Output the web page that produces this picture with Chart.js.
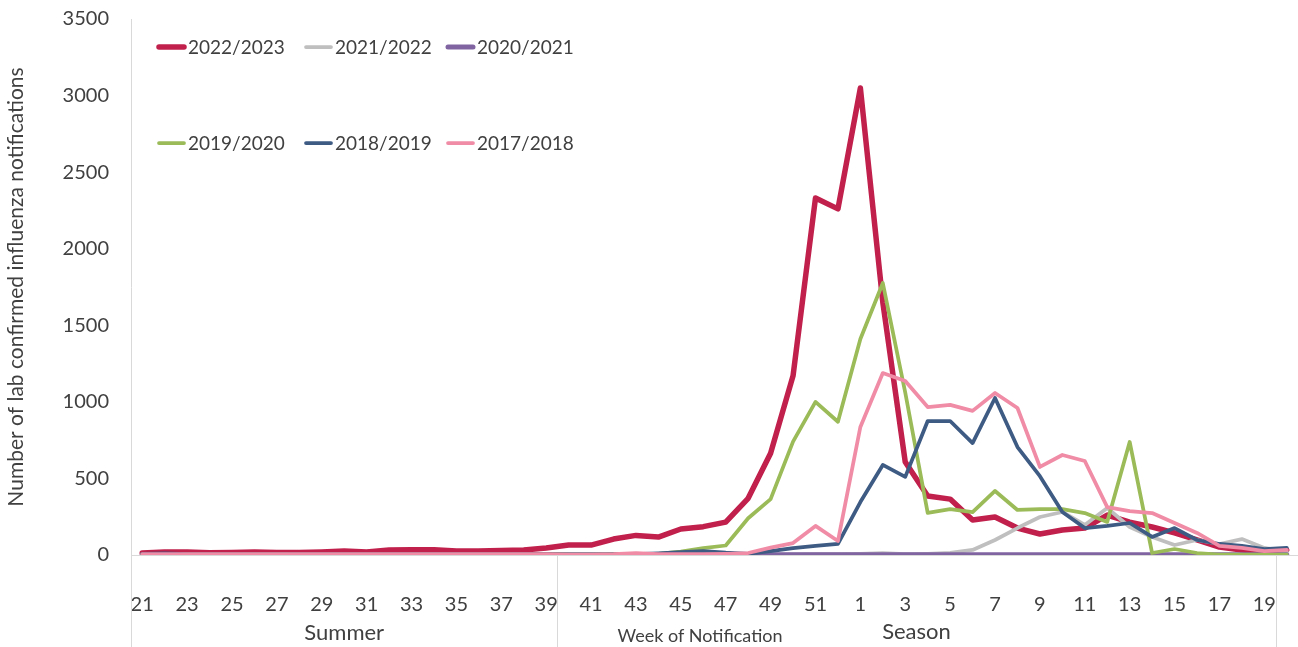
<!DOCTYPE html>
<html>
<head>
<meta charset="utf-8">
<script src="https://cdn.jsdelivr.net/npm/chart.js@4.4.1/dist/chart.umd.min.js"></script>
<style>
  body { margin: 0; background: #fff; }
</style>
</head>
<body>
<canvas id="fluChart" width="1298" height="647"></canvas>
<script>
// week of notification: 21..52 (summer + early season), then 1..20
const weeks = ['21','22','23','24','25','26','27','28','29','30','31','32','33','34','35','36','37','38','39',
  '40','41','42','43','44','45','46','47','48','49','50','51','52',
  '1','2','3','4','5','6','7','8','9','10','11','12','13','14','15','16','17','18','19','20'];

const yTicks = [0, 500, 1000, 1500, 2000, 2500, 3000, 3500];

const s2022 = [13,20,20,15,16,20,16,16,20,26,20,33,35,35,26,26,30,33,46,
  65,65,104,128,117,170,185,215,370,665,1170,2331,2260,
  3050,1650,607,385,365,228,248,176,137,163,176,261,215,183,144,98,52,33,20,33];
const s2021 = [2,2,2,2,2,2,2,2,2,2,2,2,2,2,2,2,2,2,2,
  2,2,2,2,2,2,2,2,2,3,4,5,5,
  8,12,5,8,14,33,98,176,248,281,196,307,183,118,65,98,72,104,46,20];
const s2020 = [1,1,1,1,1,1,1,1,1,1,1,1,1,1,1,1,1,1,1,
  1,1,1,1,1,1,1,1,1,1,1,1,1,
  1,1,1,1,1,1,1,1,1,1,1,1,1,1,1,1,1,1,1,1];
const s2019 = [5,5,5,5,5,8,8,5,5,5,5,5,5,5,5,5,5,5,5,
  3,3,4,5,8,22,45,62,240,365,740,1000,870,
  1410,1776,1060,275,300,280,418,294,300,300,274,216,738,13,39,13,3,2,2,2];
const s2018 = [8,10,6,5,5,6,5,5,5,6,5,5,6,6,5,5,5,5,5,
  3,3,4,5,10,18,26,15,8,25,45,59,72,
  346,588,510,875,875,731,1025,705,515,281,176,190,209,118,176,98,72,59,39,46];
const s2017 = [5,5,5,5,5,5,5,5,5,5,5,5,5,5,5,5,5,5,5,
  3,3,5,12,5,5,5,8,13,48,78,190,91,
  836,1188,1136,966,980,941,1058,960,575,653,614,313,287,274,209,144,59,46,26,33];

const seasonNames = ['2022/2023', '2021/2022', '2020/2021', '2019/2020', '2018/2019', '2017/2018'];
const seasonColors = ['#C0204B', '#BFBFBF', '#8064A2', '#9BBB59', '#3E5B84', '#F08CA6'];
const seasonWidths = [5.5, 3.75, 5, 3.75, 3.75, 3.75];
const seasonData = [s2022, s2021, s2020, s2019, s2018, s2017];

const FONT = 'Lato, "Open Sans", sans-serif';
const TEXT = '#404040';
const AXIS = '#d9d9d9';

// legend in two rows inside the plot, plus the grouped category labels under the axis
const decorations = {
  id: 'decorations',
  afterDraw(chart) {
    const ctx = chart.ctx;
    const x = chart.scales.x;
    const area = chart.chartArea;
    ctx.save();

    // category group separators
    const sep1 = (x.getPixelForValue(18) + x.getPixelForValue(19)) / 2;
    const sep2 = (x.getPixelForValue(50) + x.getPixelForValue(51)) / 2;
    ctx.strokeStyle = AXIS;
    ctx.lineWidth = 1;
    [area.left, sep1, sep2].forEach(px => {
      ctx.beginPath();
      ctx.moveTo(Math.round(px) + 0.5, area.bottom);
      ctx.lineTo(Math.round(px) + 0.5, chart.height);
      ctx.stroke();
    });

    ctx.fillStyle = TEXT;
    ctx.textAlign = 'center';
    ctx.textBaseline = 'middle';
    ctx.font = '22px ' + FONT;
    ctx.fillText('Summer', (area.left + sep1) / 2, 633);
    ctx.fillText('Season', (sep1 + sep2) / 2, 632);
    ctx.font = '18px ' + FONT;
    ctx.fillText('Week of Notification', 700, 636);

    // legend
    const cols = [157, 304, 446];
    const rows = [47, 143];
    ctx.textAlign = 'left';
    ctx.font = '19px ' + FONT;
    chart.data.datasets.forEach((ds, i) => {
      const lx = cols[i % 3];
      const ly = rows[Math.floor(i / 3)];
      ctx.strokeStyle = ds.borderColor;
      ctx.lineWidth = ds.borderWidth;
      ctx.lineCap = 'round';
      ctx.beginPath();
      ctx.moveTo(lx + 2, ly);
      ctx.lineTo(lx + 27, ly);
      ctx.stroke();
      ctx.fillStyle = TEXT;
      ctx.fillText(ds.label, lx + 31, ly + 1);
    });
    ctx.restore();
  }
};

new Chart(document.getElementById('fluChart'), {
  type: 'line',
  data: {
    labels: weeks,
    datasets: seasonNames.map((name, i) => ({
      label: name,
      data: seasonData[i],
      borderColor: seasonColors[i],
      backgroundColor: seasonColors[i],
      borderWidth: seasonWidths[i],
      pointRadius: 0,
      tension: 0,
      borderJoinStyle: 'round',
      borderCapStyle: 'round',
      order: seasonNames.length - i
    }))
  },
  options: {
    responsive: false,
    devicePixelRatio: 1,
    animation: false,
    layout: { padding: { top: 19, right: 0, bottom: 0, left: 0 } },
    plugins: {
      legend: { display: false },
      tooltip: { enabled: false }
    },
    scales: {
      x: {
        offset: true,
        grid: { display: false },
        border: { color: AXIS },
        ticks: {
          autoSkip: false,
          maxRotation: 0,
          padding: 30,
          color: TEXT,
          font: { family: FONT, size: 20 },
          callback: function (v, i) { return i % 2 === 0 ? this.getLabelForValue(v) : ''; }
        },
        afterFit: s => { s.height = 92; s.paddingLeft = 0; s.paddingRight = 0; }
      },
      y: {
        min: 0,
        max: 3500,
        grid: { display: false },
        border: { color: AXIS },
        afterBuildTicks: s => { s.ticks = yTicks.map(v => ({ value: v })); },
        ticks: {
          padding: 14,
          color: TEXT,
          font: { family: FONT, size: 20 },
          callback: v => String(v)
        },
        title: {
          display: true,
          text: 'Number of lab confirmed influenza notifications',
          color: TEXT,
          font: { family: FONT, size: 21 },
          padding: { top: 4, bottom: 0 }
        },
        afterFit: s => { s.width = 131; s.paddingTop = 0; s.paddingBottom = 0; }
      }
    }
  },
  plugins: [decorations]
});
</script>
</body>
</html>
